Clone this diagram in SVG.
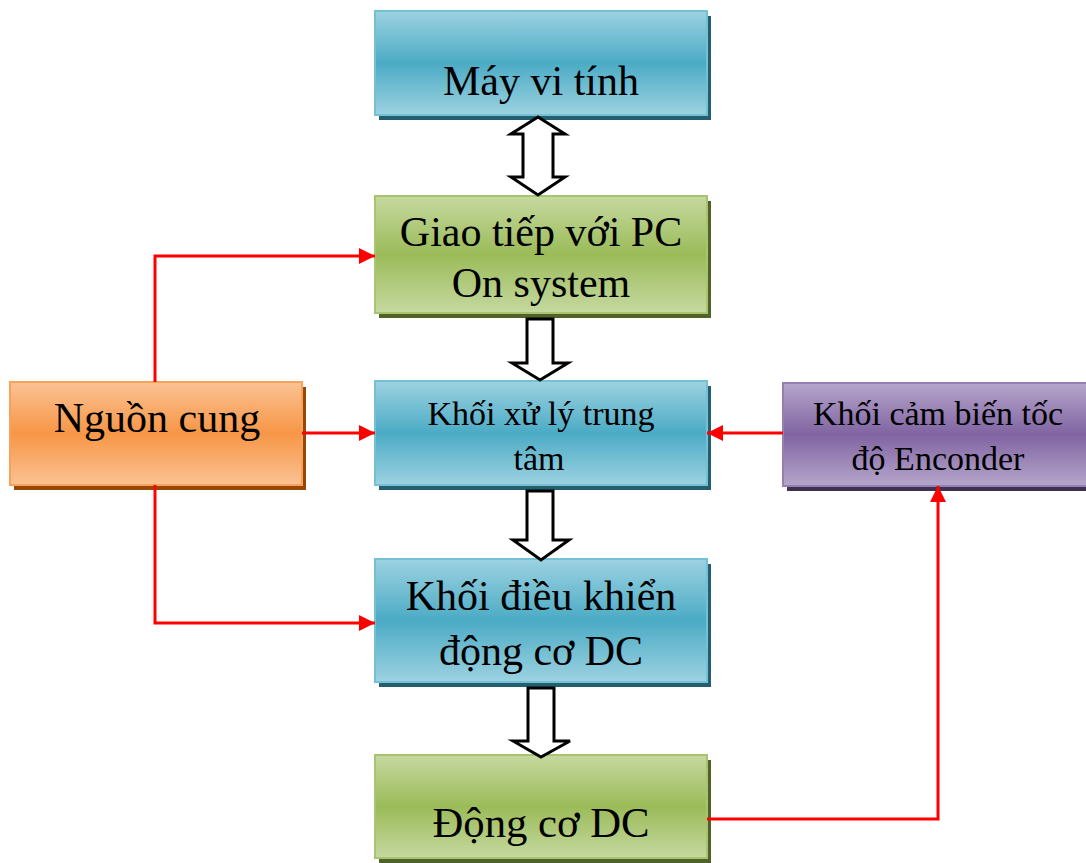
<svg xmlns="http://www.w3.org/2000/svg" width="1086" height="863" viewBox="0 0 1086 863">
  <defs>
    <linearGradient id="gBlue" x1="0" y1="0" x2="0" y2="1">
      <stop offset="0" stop-color="#9dd2e1"/>
      <stop offset="0.5" stop-color="#4babc5"/>
      <stop offset="1" stop-color="#9dd2e1"/>
    </linearGradient>
    <linearGradient id="gGreen" x1="0" y1="0" x2="0" y2="1">
      <stop offset="0" stop-color="#c6d9a0"/>
      <stop offset="0.5" stop-color="#9bbb59"/>
      <stop offset="1" stop-color="#c6d9a0"/>
    </linearGradient>
    <linearGradient id="gOrange" x1="0" y1="0" x2="0" y2="1">
      <stop offset="0" stop-color="#fbc294"/>
      <stop offset="0.5" stop-color="#f79646"/>
      <stop offset="1" stop-color="#fbc294"/>
    </linearGradient>
    <linearGradient id="gPurple" x1="0" y1="0" x2="0" y2="1">
      <stop offset="0" stop-color="#b6a6cb"/>
      <stop offset="0.5" stop-color="#8064a2"/>
      <stop offset="1" stop-color="#b6a6cb"/>
    </linearGradient>
    <marker id="redHead" viewBox="0 0 16 16" refX="16" refY="8" markerWidth="16" markerHeight="16" markerUnits="userSpaceOnUse" orient="auto">
      <path d="M0,0 L16,8 L0,16 Z" fill="#ff0000"/>
    </marker>
  </defs>
  <style>
    .lbl { font-family: "Liberation Serif", "Times New Roman", serif; fill: #000; text-anchor: middle; }
    .big { font-size: 42px; }
    .small { font-size: 34px; }
    .blue { fill: url(#gBlue); stroke: #74c0d4; stroke-width: 2; }
    .blueSh { fill: #245f6f; }
    .green { fill: url(#gGreen); stroke: #a9c46e; stroke-width: 2; }
    .greenSh { fill: #4f6228; }
    .orange { fill: url(#gOrange); stroke: #f7a15b; stroke-width: 2; }
    .orangeSh { fill: #974806; }
    .purple { fill: url(#gPurple); stroke: #9480b2; stroke-width: 2; }
    .purpleSh { fill: #3f3151; }
    .bus { fill: #ffffff; stroke: #000000; stroke-width: 3; stroke-linejoin: miter; }
    .wire { fill: none; stroke: #ff0000; stroke-width: 3; }
  </style>

  <!-- Máy vi tính -->
  <g id="may-vi-tinh">
    <rect class="blueSh" x="379" y="16" width="332" height="104"/>
    <rect class="blue" x="375" y="11" width="332" height="104"/>
    <text class="lbl big" x="541" y="95">Máy vi tính</text>
  </g>

  <!-- Giao tiếp với PC -->
  <g id="giao-tiep-pc">
    <rect class="greenSh" x="379" y="201" width="332" height="117"/>
    <rect class="green" x="375" y="196" width="332" height="117"/>
    <text class="lbl big" x="541" y="246">Giao tiếp với PC</text>
    <text class="lbl big" x="541" y="297">On system</text>
  </g>

  <!-- Khối xử lý trung tâm -->
  <g id="xu-ly-trung-tam">
    <rect class="blueSh" x="379" y="386" width="332" height="104"/>
    <rect class="blue" x="375" y="381" width="332" height="104"/>
    <text class="lbl small" x="541" y="425">Khối xử lý trung</text>
    <text class="lbl small" x="539" y="470">tâm</text>
  </g>

  <!-- Khối điều khiển động cơ DC -->
  <g id="dieu-khien-dong-co">
    <rect class="blueSh" x="379" y="564" width="332" height="123"/>
    <rect class="blue" x="375" y="559" width="332" height="123"/>
    <text class="lbl big" x="541" y="610">Khối điều khiển</text>
    <text class="lbl big" x="541" y="665">động cơ DC</text>
  </g>

  <!-- Động cơ DC -->
  <g id="dong-co-dc">
    <rect class="greenSh" x="379" y="760" width="332" height="103"/>
    <rect class="green" x="375" y="755" width="332" height="103"/>
    <text class="lbl big" x="541" y="837" textLength="217" lengthAdjust="spacingAndGlyphs">Động cơ DC</text>
  </g>

  <!-- Nguồn cung -->
  <g id="nguon-cung">
    <rect class="orangeSh" x="14" y="387" width="292" height="103"/>
    <rect class="orange" x="10" y="382" width="292" height="103"/>
    <text class="lbl big" x="157" y="432">Nguồn cung</text>
  </g>

  <!-- Khối cảm biến tốc độ Enconder -->
  <g id="cam-bien-encoder">
    <rect class="purpleSh" x="787" y="388" width="310" height="103"/>
    <rect class="purple" x="783" y="383" width="310" height="103"/>
    <text class="lbl small" x="938" y="425">Khối cảm biến tốc</text>
    <text class="lbl small" x="938" y="470">độ Enconder</text>
  </g>

  <g id="connectors">
    <!-- block arrows -->
    <path class="bus" d="M538,117 L565,134 L553,134 L553,177 L565,177 L538,195 L511,177 L523,177 L523,134 L511,134 Z"/>
    <path class="bus" d="M527,319 L553,319 L553,363 L568,363 L540,380 L512,363 L527,363 Z"/>
    <path class="bus" d="M527,491 L553,491 L553,540 L569,540 L541,560 L513,540 L527,540 Z"/>
    <path class="bus" d="M528,688 L554,688 L554,741 L570,741 L541,757 L513,741 L528,741 Z"/>
    <!-- power and feedback lines -->
    <polyline class="wire" points="155,382 155,256 375,256" marker-end="url(#redHead)"/>
    <line class="wire" x1="302" y1="433" x2="375" y2="433" marker-end="url(#redHead)"/>
    <polyline class="wire" points="155,485 155,623 375,623" marker-end="url(#redHead)"/>
    <line class="wire" x1="783" y1="433" x2="707" y2="433" marker-end="url(#redHead)"/>
    <polyline class="wire" points="707,819 938,819 938,486" marker-end="url(#redHead)"/>
  </g>
</svg>
